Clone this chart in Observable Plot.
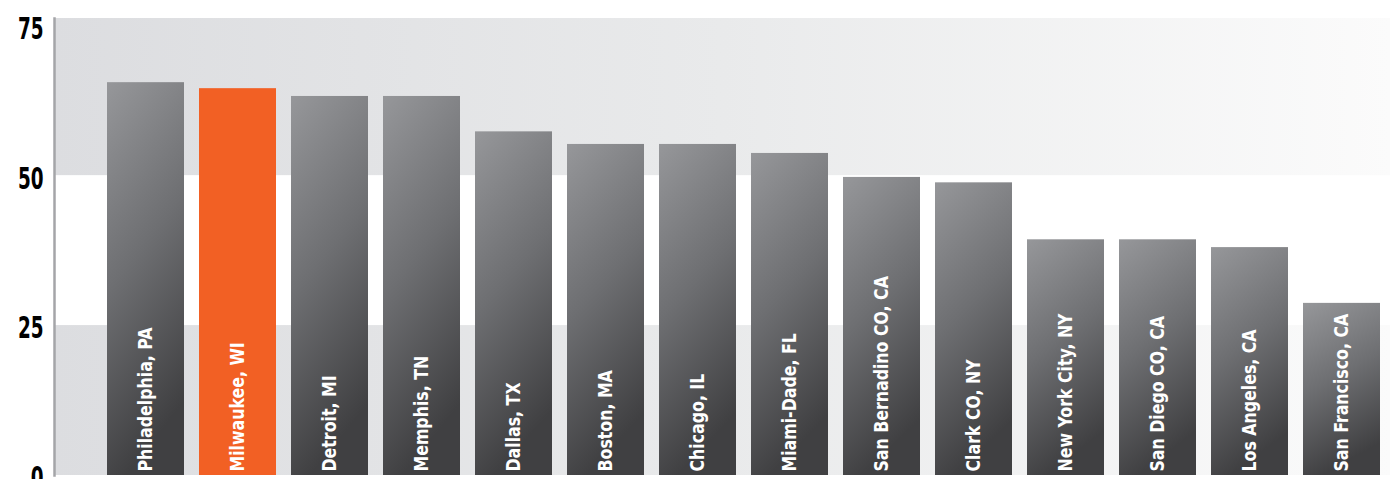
<!DOCTYPE html>
<html>
<head>
<meta charset="utf-8">
<script src="https://cdn.jsdelivr.net/npm/d3@7"></script>
<script src="https://cdn.jsdelivr.net/npm/@observablehq/plot@0.6"></script>
<style>
  html, body { margin: 0; padding: 0; background: #ffffff; }
  #chart svg { display: block; }
</style>
</head>
<body>
<div id="chart"></div>
<script>
const cities = ["Philadelphia, PA", "Milwaukee, WI", "Detroit, MI", "Memphis, TN", "Dallas, TX", "Boston, MA", "Chicago, IL", "Miami-Dade, FL", "San Bernadino CO, CA", "Clark CO, NY", "New York City, NY", "San Diego CO, CA", "Los Angeles, CA", "San Francisco, CA"];
const values = [65.5, 64.5, 63.2, 63.2, 57.3, 55.2, 55.2, 53.7, 49.7, 48.8, 39.3, 39.3, 38.0, 28.7];
const highlight = "Milwaukee, WI";
const yTicks = [0, 25, 50, 75];
const bandStarts = [0, 50];
const bandEnds = [25, 76.2];

const data = cities.map((city, i) => ({city, value: values[i]}));
const bands = bandStarts.map((s, i) => ({y1: s, y2: bandEnds[i]}));

const FONT = "'DejaVu Sans Condensed', 'DejaVu Sans', sans-serif";

const defs = () => {
  const g = d3.create("svg:defs");
  const bg = g.append("linearGradient").attr("id", "bgGrad")
    .attr("x1", 0).attr("y1", 0).attr("x2", 1).attr("y2", 0);
  bg.append("stop").attr("offset", "0%").attr("stop-color", "#dcdde0");
  bg.append("stop").attr("offset", "50%").attr("stop-color", "#e9eaeb");
  bg.append("stop").attr("offset", "100%").attr("stop-color", "#fbfbfb");
  const bar = g.append("linearGradient").attr("id", "barGrad")
    .attr("x1", 0).attr("y1", 0).attr("x2", 0.25).attr("y2", 1);
  bar.append("stop").attr("offset", "0%").attr("stop-color", "#96979a");
  bar.append("stop").attr("offset", "50%").attr("stop-color", "#6e6f72");
  bar.append("stop").attr("offset", "100%").attr("stop-color", "#404042");
  return g.node();
};

const chart = Plot.plot({
  width: 1390,
  height: 479,
  marginTop: 18,
  marginBottom: 4,
  marginLeft: 54,
  marginRight: 0,
  style: {background: "#ffffff"},
  x: {domain: cities, range: [105, 1382], paddingInner: 0.165, paddingOuter: 0, axis: null},
  y: {domain: [0, 76.2], label: null},
  marks: [
    defs,
    Plot.rect(bands, {y1: "y1", y2: "y2", fill: "url(#bgGrad)"}),
    Plot.barY(data.filter(d => d.city !== highlight), {x: "city", y: "value", fill: "url(#barGrad)"}),
    Plot.barY(data.filter(d => d.city === highlight), {x: "city", y: "value", fill: "#f26024"}),
    Plot.text(data, {
      x: "city", y: 0, text: "city", rotate: -90, textAnchor: "start", dy: -4,
      fill: "#ffffff", fontSize: 19.5, fontWeight: "bold", fontFamily: FONT, className: "barlabel"
    }),
    Plot.frame({anchor: "left", stroke: "#a4a5a8", strokeWidth: 2.5}),
    Plot.axisY({
      ticks: yTicks, tickSize: 0, tickPadding: 11, label: null,
      fontSize: 31, fontWeight: "bold", fontFamily: FONT, fill: "#000000", dy: 3
    })
  ]
});

// condense glyphs along the text direction to imitate the narrow typeface
d3.select(chart).selectAll(".barlabel text").each(function () {
  const t = this.getAttribute("transform") || "";
  this.setAttribute("transform", t + " scale(0.9,1)");
});
d3.select(chart).selectAll("g[aria-label='y-axis tick label'] text").each(function () {
  const t = this.getAttribute("transform") || "";
  this.setAttribute("transform", t + " scale(0.66,1)");
});

document.getElementById("chart").appendChild(chart);
</script>
</body>
</html>
